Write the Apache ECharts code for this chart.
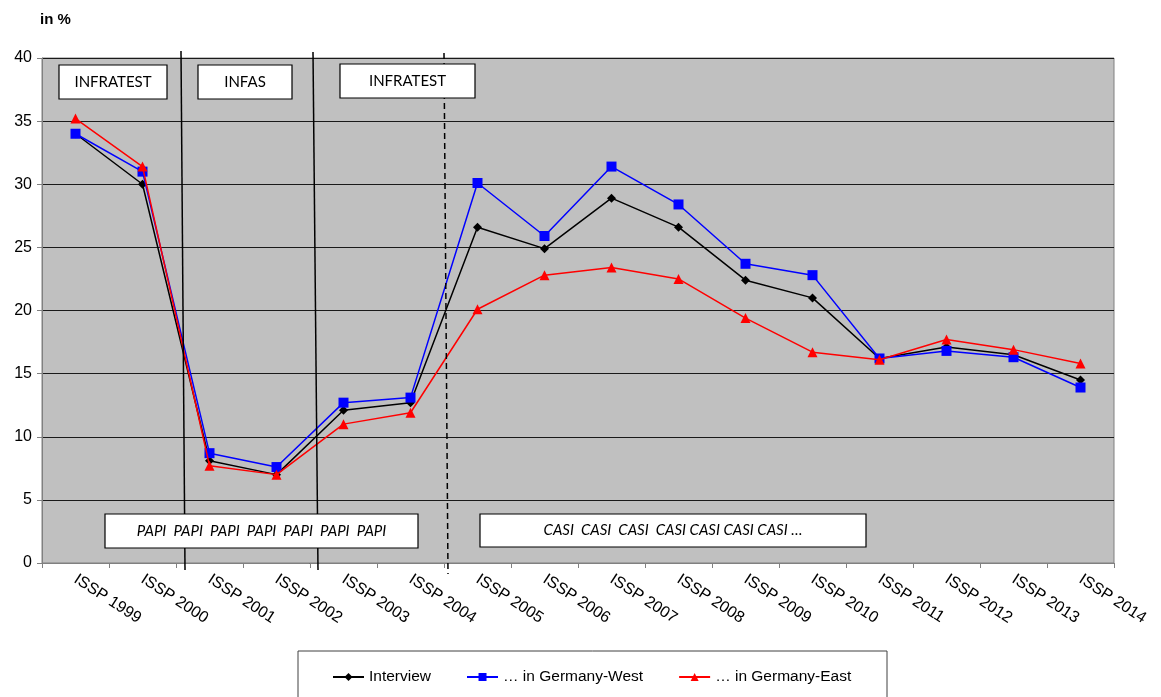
<!DOCTYPE html>
<html>
<head>
<meta charset="utf-8">
<script src="https://cdn.jsdelivr.net/npm/echarts@6/dist/echarts.min.js"></script>
<style>
  html, body { margin: 0; padding: 0; background: #fff; }
  #chart { width: 1161px; height: 697px; }
</style>
</head>
<body>
<div id="chart"></div>
<script>
const categories = ['ISSP 1999', 'ISSP 2000', 'ISSP 2001', 'ISSP 2002', 'ISSP 2003', 'ISSP 2004', 'ISSP 2005', 'ISSP 2006',
  'ISSP 2007', 'ISSP 2008', 'ISSP 2009', 'ISSP 2010', 'ISSP 2011', 'ISSP 2012', 'ISSP 2013', 'ISSP 2014'];
const interview = [34.0, 30.0, 8.1, 7.0, 12.1, 12.7, 26.6, 24.9, 28.9, 26.6, 22.4, 21.0, 16.2, 17.1, 16.5, 14.5];
const west = [34.0, 31.0, 8.7, 7.6, 12.7, 13.1, 30.1, 25.9, 31.4, 28.4, 23.7, 22.8, 16.2, 16.8, 16.3, 13.9];
const east = [35.2, 31.4, 7.7, 7.0, 11.0, 11.9, 20.1, 22.8, 23.4, 22.5, 19.4, 16.7, 16.1, 17.7, 16.9, 15.8];
const seriesNames = ['Interview', '\u2026 in Germany-West', '\u2026 in Germany-East'];

const chart = echarts.init(document.getElementById('chart'));

// annotation boxes (institute / mode), drawn above the divider lines
function box(x, y, w, h, text, italic) {
  return [
    { type: 'rect', z: 100, shape: { x: x, y: y, width: w, height: h },
      style: { fill: '#fff', stroke: '#000', lineWidth: 1.2 } },
    { type: 'text', z: 101, x: x + w / 2, y: y + h / 2,
      style: { text: text, fill: '#000', font: (italic ? 'italic ' : '') + '15px Lato, sans-serif',
        align: 'center', verticalAlign: 'middle' } }
  ];
}

const options = {
  animation: false,
  backgroundColor: '#fff',
  textStyle: { fontFamily: 'Arial, "Liberation Sans", sans-serif' },
  grid: {
    left: 42, right: 47, top: 58, bottom: 134,
    show: true, backgroundColor: '#C0C0C0', borderColor: '#808080', borderWidth: 1
  },
  legend: {
    left: 327, top: 664,
    itemWidth: 31, itemHeight: 10, itemGap: 35,
    textStyle: { fontSize: 15.5, color: '#000', fontFamily: 'Arial, "Liberation Sans", sans-serif' },
    data: seriesNames
  },
  xAxis: {
    type: 'category',
    data: categories,
    boundaryGap: true,
    axisLine: { lineStyle: { color: '#808080' } },
    axisTick: { show: true, length: 5, lineStyle: { color: '#808080' } },
    axisLabel: { rotate: -33, color: '#000', fontSize: 16, margin: 15, interval: 0 },
    splitLine: { show: false }
  },
  yAxis: {
    type: 'value',
    min: 0, max: 40, interval: 5,
    axisLine: { show: true, lineStyle: { color: '#808080' } },
    axisTick: { show: true, length: 5, lineStyle: { color: '#808080' } },
    axisLabel: { color: '#000', fontSize: 16, margin: 10 },
    splitLine: { lineStyle: { color: '#1a1a1a', width: 1 } }
  },
  graphic: [
    { type: 'text', left: 40, top: 12, style: { text: 'in %', font: 'bold 15px Arial, sans-serif', fill: '#000' } },
    { type: 'line', z: 50, shape: { x1: 181, y1: 51, x2: 185, y2: 570 }, style: { stroke: '#000', lineWidth: 1.5 } },
    { type: 'line', z: 50, shape: { x1: 313, y1: 52, x2: 318, y2: 570 }, style: { stroke: '#000', lineWidth: 1.5 } },
    { type: 'line', z: 50, shape: { x1: 444, y1: 53, x2: 448, y2: 574 }, style: { stroke: '#000', lineWidth: 1.5, lineDash: [6, 4] } },
    ...box(59, 65, 108, 34, 'INFRATEST'),
    ...box(198, 65, 94, 34, 'INFAS'),
    ...box(340, 64, 135, 34, 'INFRATEST'),
    ...box(105, 514, 313, 34, 'PAPI  PAPI  PAPI  PAPI  PAPI  PAPI  PAPI', true),
    ...box(480, 514, 386, 33, 'CASI  CASI  CASI  CASI CASI CASI CASI \u2026', true),
    { type: 'rect', z: 0, shape: { x: 298, y: 651, width: 589, height: 60 },
      style: { fill: '#fff', stroke: '#404040', lineWidth: 1 } }
  ],
  series: [
    {
      name: seriesNames[0], type: 'line', data: interview,
      symbol: 'diamond', symbolSize: 9,
      itemStyle: { color: '#000' }, lineStyle: { color: '#000', width: 1.5 }, z: 3
    },
    {
      name: seriesNames[1], type: 'line', data: west,
      symbol: 'rect', symbolSize: 10,
      itemStyle: { color: '#0000FF' }, lineStyle: { color: '#0000FF', width: 1.5 }, z: 4
    },
    {
      name: seriesNames[2], type: 'line', data: east,
      symbol: 'triangle', symbolSize: 10,
      itemStyle: { color: '#FF0000' }, lineStyle: { color: '#FF0000', width: 1.5 }, z: 5
    }
  ]
};

chart.setOption(options);
</script>
</body>
</html>
